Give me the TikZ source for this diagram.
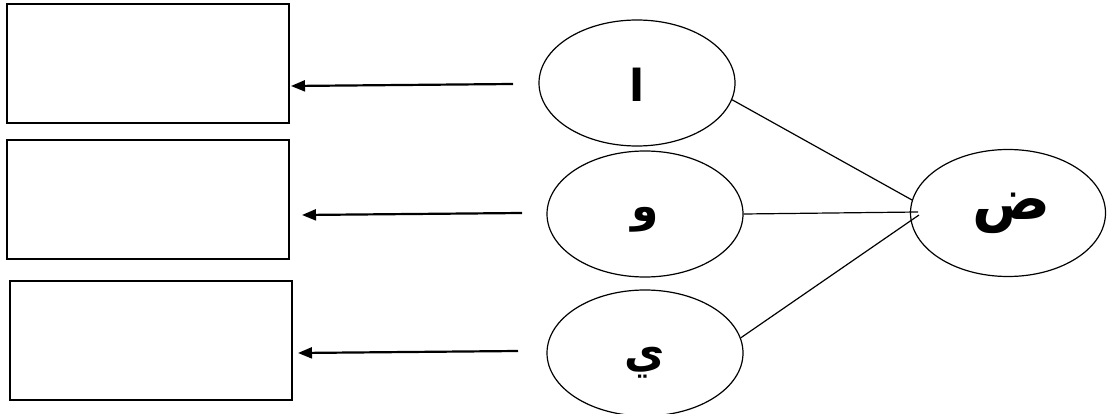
\documentclass[tikz,border=0pt]{standalone}
\usepackage{fontspec}
\newfontfamily\arabicfont[Script=Arabic]{DejaVu Sans}
\TeXXeTstate=1
\usetikzlibrary{shapes.geometric,arrows.meta}
\begin{document}
\begin{tikzpicture}[x=1pt,y=-1pt,
  box/.style={draw,line width=2pt,minimum width=282pt,minimum height=119pt,inner sep=0pt},
  oval/.style={draw,ellipse,line width=1.2pt,minimum width=196pt,minimum height=126pt,inner sep=0pt},
  lbl/.style={inner sep=0pt,font=\arabicfont\bfseries\fontsize{44}{50}\selectfont},
  arr/.style={line width=2.2pt,-{Triangle[length=14pt,width=11pt]}},
  link/.style={line width=1.2pt}]
\useasboundingbox (0,0) rectangle (1114,414);
\node[box] (b1) at (148,63.5) {};
\node[box] (b2) at (148,200) {};
\node[box] (b3) at (150.5,340) {};
\node[oval] (e1) at (637,83) {};
\node[oval] (e2) at (645,214) {};
\node[oval] (e3) at (645,353) {};
\node[oval,minimum width=195pt,minimum height=127pt] (ed) at (1008,213) {};
\node[lbl] (l1) at ([yshift=-2pt]e1.center) {\beginR ا\endR};
\node[lbl] (l2) at ([yshift=-6pt]e2.center) {\beginR و\endR};
\node[lbl] (l3) at ([yshift=-10pt]e3.center) {\beginR ي\endR};
\node[lbl,font=\arabicfont\bfseries\fontsize{58}{64}\selectfont] (ld) at ([xshift=4pt]ed.center) {\beginR ض\endR};
\coordinate (s1) at (513,84);
\coordinate (t1) at (291,86);
\coordinate (s2) at (522,213);
\coordinate (t2) at (302,215);
\coordinate (s3) at (518,351);
\coordinate (t3) at (298,353);
\draw[arr] (s1) -- (t1);
\draw[arr] (s2) -- (t2);
\draw[arr] (s3) -- (t3);
\coordinate (d1) at (912,200);
\coordinate (d2) at (918,212);
\coordinate (d3) at (919,215);
\draw[link] (e1.-10) -- (d1);
\draw[link] (e2.east) -- (d2);
\draw[link] (e3.9) -- (d3);
\end{tikzpicture}
\end{document}
